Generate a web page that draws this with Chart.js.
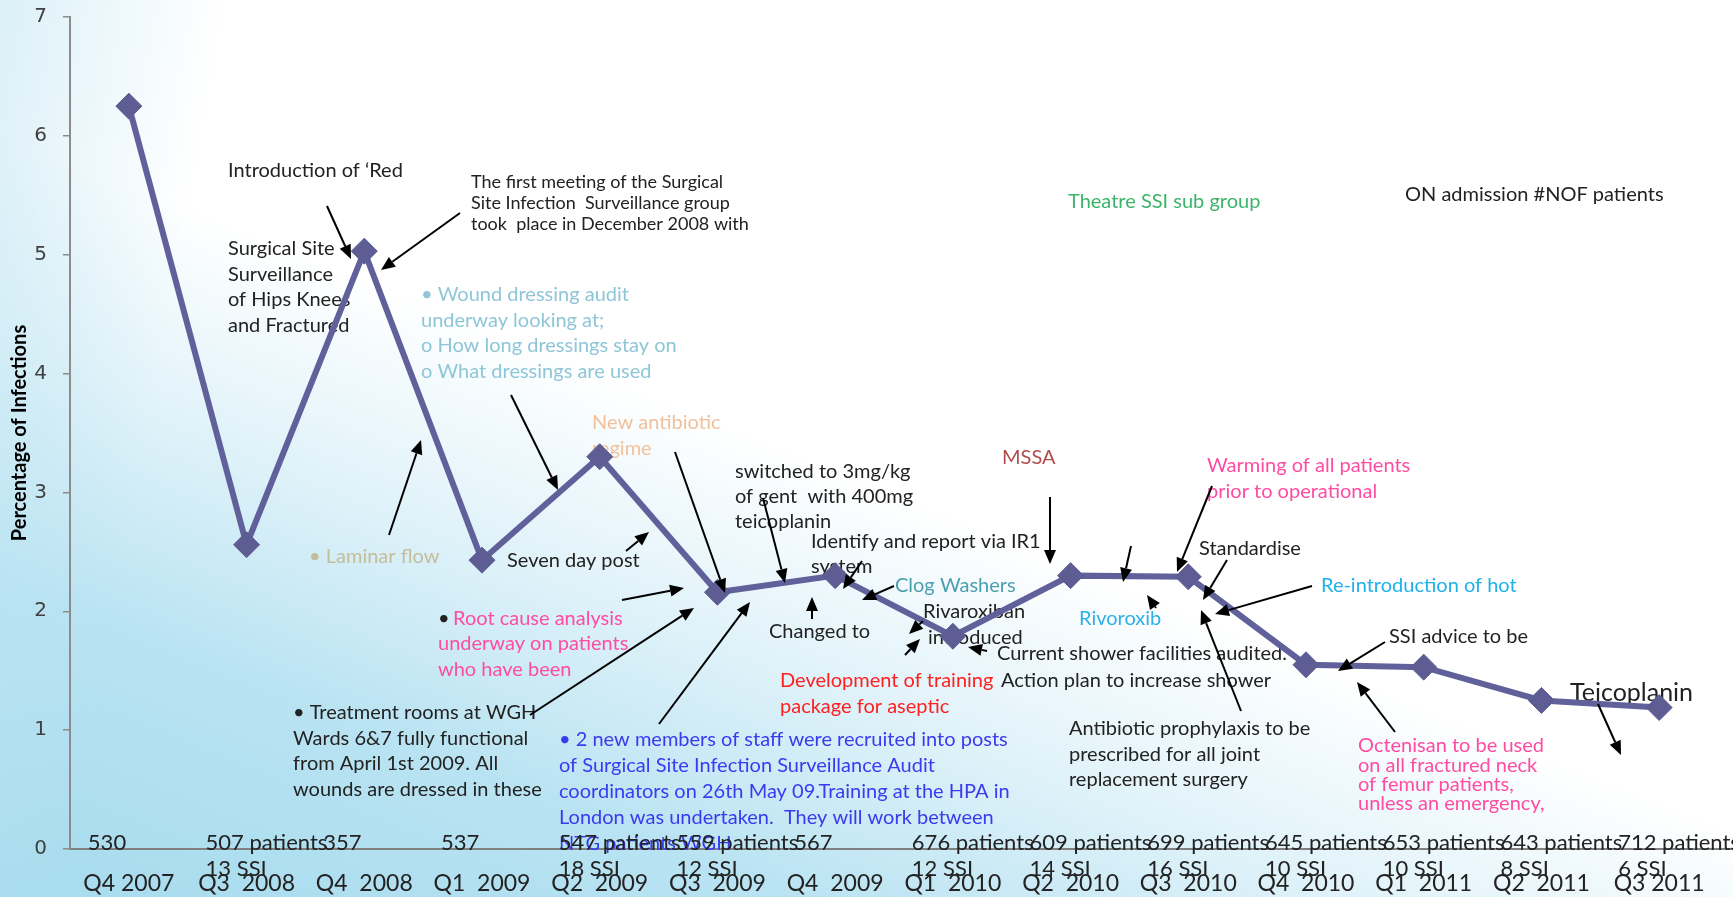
<!DOCTYPE html>
<html>
<head>
<meta charset="utf-8">
<script src="https://cdn.jsdelivr.net/npm/chart.js@4.4.1/dist/chart.umd.min.js"></script>
<style>
  html, body { margin: 0; padding: 0; }
  body {
    width: 1733px; height: 897px; overflow: hidden;
    background:
      linear-gradient(100deg, rgba(190,228,242,0.55) 0%, rgba(255,255,255,0) 12%),
      linear-gradient(22deg, #a6dbee 0%, #b9e3f2 20%, #dff2f9 34%, #ffffff 48%, #ffffff 100%);
  }
</style>
</head>
<body>
<canvas id="ssiChart" width="1733" height="897"></canvas>
<script>
// quarters, infection rate (%), patients and SSI counts
const quarters = ['Q4 2007', 'Q3  2008', 'Q4  2008', 'Q1  2009', 'Q2  2009', 'Q3  2009', 'Q4  2009',
                  'Q1  2010', 'Q2  2010', 'Q3  2010', 'Q4  2010', 'Q1  2011', 'Q2  2011', 'Q3 2011'];
const infectionRate = [6.25, 2.56, 5.03, 2.43, 3.30, 2.16, 2.30, 1.79, 2.30, 2.29, 1.55, 1.53, 1.25, 1.19];
const patientLabels = ['530', '507 patients', '357', '537', '547 patients', '559 patients', '567',
                       '676 patients', '609 patients', '699 patients', '645 patients', '653 patients',
                       '643 patients', '712 patients'];
const ssiLabels = ['', '13 SSI', '', '', '18 SSI', '12 SSI', '', '12 SSI', '14 SSI', '16 SSI',
                   '10 SSI', '10 SSI', '8 SSI', '6 SSI'];
const yTicks = [0, 1, 2, 3, 4, 5, 6, 7];

const FONT = "Lato, 'Liberation Sans Narrow', sans-serif";
const INK = '#222222';
const PINK = '#ff4ca3';

// callout texts: left x, first line centre y, line gap
const notes = [
  { x: 228, y: 171, lh: 25, size: 20, color: INK, lines: ['Introduction of \u2018Red'] },
  { x: 471, y: 182, lh: 21, size: 18, color: INK,
    lines: ['The first meeting of the Surgical', 'Site Infection  Surveillance group', 'took  place in December 2008 with'] },
  { x: 228, y: 249, lh: 25.5, size: 20, color: INK,
    lines: ['Surgical Site', 'Surveillance', 'of Hips Knees', 'and Fractured'] },
  { x: 421, y: 295, lh: 25.5, size: 20, color: '#8ec6d8',
    lines: ['\u2022 Wound dressing audit', 'underway looking at;', 'o How long dressings stay on', 'o What dressings are used'] },
  { x: 309, y: 557, lh: 25, size: 20, color: '#c4bd99', lines: ['\u2022 Laminar flow'] },
  { x: 592, y: 423, lh: 26, size: 20, color: '#f2c19b', lines: ['New antibiotic', 'regime'] },
  { x: 507, y: 561, lh: 25, size: 20, color: INK, lines: ['Seven day post'] },
  { x: 438, y: 619, lh: 25, size: 20, color: INK, lines: ['\u2022'] },
  { x: 453, y: 619, lh: 25, size: 20, color: PINK, lines: ['Root cause analysis'] },
  { x: 438, y: 644, lh: 25.5, size: 20, color: PINK, lines: ['underway on patients', 'who have been'] },
  { x: 293, y: 713, lh: 25.5, size: 20, color: INK,
    lines: ['\u2022 Treatment rooms at WGH', 'Wards 6&7 fully functional', 'from April 1st 2009. All', 'wounds are dressed in these'] },
  { x: 559, y: 740, lh: 25.8, size: 20, color: '#3a3af0',
    lines: ['\u2022 2 new members of staff were recruited into posts', 'of Surgical Site Infection Surveillance Audit',
            'coordinators on 26th May 09.Training at the HPA in', 'London was undertaken.  They will work between',
            'NTG patients WGH'] },
  { x: 735, y: 472, lh: 25, size: 20, color: INK, lines: ['switched to 3mg/kg', 'of gent  with 400mg', 'teicoplanin'] },
  { x: 811, y: 542, lh: 24.5, size: 20, color: INK, lines: ['Identify and report via IR1', 'system'] },
  { x: 769, y: 632, lh: 25, size: 20, color: INK, lines: ['Changed to'] },
  { x: 895, y: 586, lh: 25, size: 20, color: '#4a9fb0', lines: ['Clog Washers'] },
  { x: 923, y: 612, lh: 25, size: 20, color: INK, lines: ['Rivaroxiban'] },
  { x: 928, y: 638, lh: 25, size: 20, color: INK, lines: ['introduced'] },
  { x: 780, y: 681, lh: 25.5, size: 20, color: '#ff1f1f', lines: ['Development of training', 'package for aseptic'] },
  { x: 997, y: 654, lh: 25, size: 20, color: INK, lines: ['Current shower facilities audited.'] },
  { x: 1001, y: 681, lh: 25, size: 20, color: INK, lines: ['Action plan to increase shower'] },
  { x: 1002, y: 458, lh: 25, size: 20, color: '#b04e4e', lines: ['MSSA'] },
  { x: 1068, y: 202, lh: 25, size: 20, color: '#3cb46a', lines: ['Theatre SSI sub group'] },
  { x: 1405, y: 195, lh: 25, size: 20, color: INK, lines: ['ON admission #NOF patients'] },
  { x: 1079, y: 619, lh: 25, size: 20, color: '#2fb0e6', lines: ['Rivoroxib'] },
  { x: 1207, y: 466, lh: 26, size: 20, color: PINK, lines: ['Warming of all patients', 'prior to operational'] },
  { x: 1199, y: 549, lh: 25, size: 20, color: INK, lines: ['Standardise'] },
  { x: 1321, y: 586, lh: 25, size: 20, color: '#1fb2ea', lines: ['Re-introduction of hot'] },
  { x: 1389, y: 637, lh: 25, size: 20, color: INK, lines: ['SSI advice to be'] },
  { x: 1069, y: 729, lh: 25.5, size: 20, color: INK,
    lines: ['Antibiotic prophylaxis to be', 'prescribed for all joint', 'replacement surgery'] },
  { x: 1358, y: 746, lh: 19.2, size: 20, color: PINK,
    lines: ['Octenisan to be used', 'on all fractured neck', 'of femur patients,', 'unless an emergency,'] },
  { x: 1570, y: 693, lh: 25, size: 25, color: INK, lines: ['Teicoplanin'] }
];

// callout arrows: tail x, tail y, head x, head y
const arrows = [
  [327, 206, 351, 259], [460, 213, 381, 270], [389, 535, 421, 440], [511, 395, 558, 490],
  [626, 551, 649, 532], [675, 452, 725, 593], [622, 600, 684, 588], [530, 715, 694, 608],
  [659, 724, 750, 602], [763, 498, 785, 583], [812, 619, 812, 597], [862, 561, 843, 589],
  [894, 586, 862, 600], [923, 621, 909, 634], [905, 655, 920, 639], [987, 651, 968, 647],
  [1050, 497, 1050, 564], [1131, 546, 1123, 582], [1156, 608, 1147, 595], [1212, 486, 1177, 572],
  [1227, 560, 1203, 600], [1312, 586, 1215, 614], [1241, 711, 1201, 610], [1385, 642, 1338, 671],
  [1395, 732, 1357, 682], [1598, 704, 1621, 755]
];

function drawArrow(ctx, x1, y1, x2, y2) {
  const a = Math.atan2(y2 - y1, x2 - x1);
  const len = 14, half = 6;
  const bx = x2 - len * Math.cos(a), by = y2 - len * Math.sin(a);
  ctx.beginPath();
  ctx.moveTo(x1, y1);
  ctx.lineTo(bx, by);
  ctx.stroke();
  ctx.beginPath();
  ctx.moveTo(x2, y2);
  ctx.lineTo(bx - half * Math.sin(a), by + half * Math.cos(a));
  ctx.lineTo(bx + half * Math.sin(a), by - half * Math.cos(a));
  ctx.closePath();
  ctx.fill();
}

const calloutPlugin = {
  id: 'callouts',
  beforeDatasetsDraw(chart) {
    const ctx = chart.ctx;
    const xs = chart.scales.x, ys = chart.scales.y;
    ctx.save();
    // x axis line runs on to the edge of the canvas
    ctx.strokeStyle = '#808080';
    ctx.lineWidth = 2;
    ctx.beginPath();
    ctx.moveTo(xs.right, ys.bottom);
    ctx.lineTo(chart.width, ys.bottom);
    ctx.stroke();

    ctx.textAlign = 'left';
    ctx.textBaseline = 'middle';
    notes.forEach(n => {
      ctx.font = n.size + 'px ' + FONT;
      ctx.fillStyle = n.color;
      n.lines.forEach((t, i) => ctx.fillText(t, n.x, n.y + i * n.lh));
    });
    ctx.restore();
  },
  afterDatasetsDraw(chart) {
    const ctx = chart.ctx;
    const xs = chart.scales.x, ys = chart.scales.y;
    ctx.save();
    // patient counts and SSI counts under each quarter
    ctx.font = '22px ' + FONT;
    ctx.fillStyle = INK;
    ctx.textAlign = 'left';
    ctx.textBaseline = 'middle';
    quarters.forEach((q, i) => {
      const x = xs.getPixelForValue(i) - 41;
      ctx.fillText(patientLabels[i], x, ys.bottom - 6);
      if (ssiLabels[i]) ctx.fillText(ssiLabels[i], x, ys.bottom + 20);
    });
    // arrows
    ctx.strokeStyle = '#000';
    ctx.fillStyle = '#000';
    ctx.lineWidth = 2;
    arrows.forEach(a => drawArrow(ctx, a[0], a[1], a[2], a[3]));
    ctx.restore();
  }
};

new Chart(document.getElementById('ssiChart'), {
  type: 'line',
  data: {
    labels: quarters,
    datasets: [{
      label: 'Percentage of Infections',
      data: infectionRate,
      borderColor: '#60609a',
      backgroundColor: '#5d5d94',
      borderWidth: 6,
      pointStyle: 'rectRot',
      pointRadius: 13,
      pointBorderWidth: 1,
      pointBorderColor: '#5d5d94',
      tension: 0
    }]
  },
  options: {
    responsive: false,
    animation: false,
    layout: { padding: { top: 17, right: 15, bottom: 0, left: 0 } },
    plugins: { legend: { display: false }, tooltip: { enabled: false } },
    scales: {
      x: {
        offset: true,
        grid: { display: false },
        border: { color: '#808080', width: 2 },
        ticks: { color: INK, font: { family: FONT, size: 23 }, padding: 13, maxRotation: 0, autoSkip: false },
        afterFit(s) { s.height = 48; }
      },
      y: {
        min: 0,
        max: 7,
        afterBuildTicks(s) { s.ticks = yTicks.map(v => ({ value: v })); },
        ticks: { color: '#404040', font: { family: 'DejaVu Sans', size: 20 }, padding: 16 },
        grid: { drawOnChartArea: false, drawTicks: true, tickLength: 7, color: '#8c8c8c', lineWidth: 1.5 },
        border: { color: '#8c8c8c', width: 2 },
        title: {
          display: true,
          text: 'Percentage of Infections',
          color: '#000',
          font: { family: FONT, size: 20, weight: 'bold' },
          padding: { top: 8, bottom: 0 }
        },
        afterFit(s) {
          s.width = 70;
          s.paddingTop = 0;
          s.paddingBottom = 0;
        }
      }
    }
  },
  plugins: [calloutPlugin]
});
</script>
</body>
</html>
